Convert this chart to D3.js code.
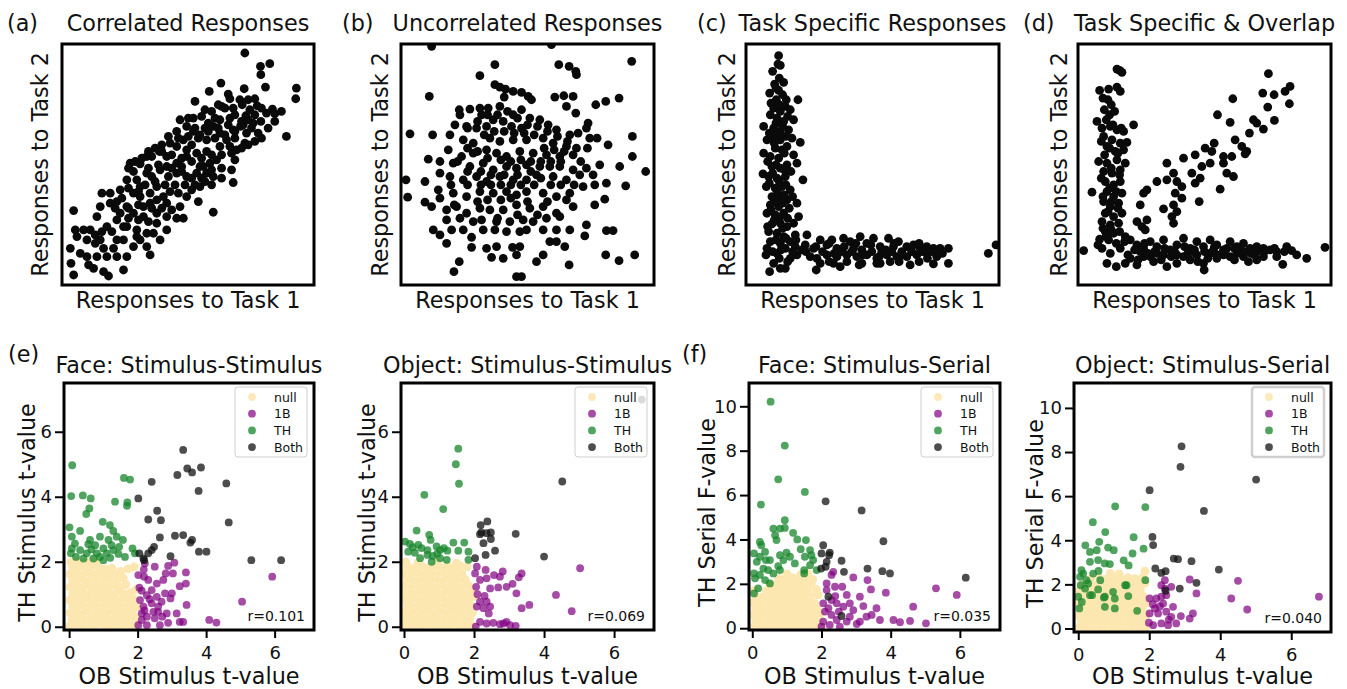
<!DOCTYPE html>
<html>
<head>
<meta charset="utf-8">
<script src="https://cdn.jsdelivr.net/npm/d3@7"></script>
<style>
  body { margin: 0; background: #fff; }
  text { font-family: "DejaVu Sans", sans-serif; fill: #111; }
</style>
</head>
<body>
<svg id="fig" width="1347" height="689"></svg>
<script>
// ---- top row: schematic responses (arbitrary units, x 0..760, y 0..722) ----
const correlatedResp = [[550,695],[597,655],[625,663],[598,630],[478,605],[548,588],[612,593],[705,590],[703,558],[443,580],[500,572],[505,558],[535,555],[560,555],[580,558],[633,527],[615,515],[640,513],[542,540],[587,537],[400,550],[430,525],[480,535],[515,530],[565,525],[553,507],[575,485],[598,490],[675,445],[355,495],[395,500],[420,505],[460,500],[505,500],[537,475],[555,455],[590,455],[520,440],[550,425],[525,405],[520,375],[455,475],[475,455],[435,435],[415,450],[375,475],[345,460],[325,425],[365,435],[390,420],[435,400],[475,415],[505,415],[465,375],[445,365],[515,307],[455,218],[205,365],[235,363],[270,385],[293,400],[315,385],[345,365],[375,385],[405,395],[425,355],[455,325],[415,295],[390,285],[410,250],[375,265],[355,235],[315,245],[285,295],[255,335],[225,315],[195,315],[215,275],[175,285],[145,275],[120,275],[115,235],[145,245],[165,250],[175,215],[195,235],[235,265],[265,245],[285,215],[315,205],[345,200],[365,200],[285,185],[255,155],[225,165],[195,175],[165,195],[135,175],[105,205],[85,165],[65,165],[40,165],[35,223],[45,145],[75,135],[100,125],[115,135],[125,110],[135,85],[165,85],[155,110],[185,135],[215,115],[235,135],[255,115],[265,90],[295,135],[195,85],[105,85],[75,85],[55,95],[25,110],[27,65],[35,30],[80,60],[95,50],[125,40],[140,27],[185,45],[225,145],[315,165],[275,155],[415,355],[320,325],[345,335],[295,345],[270,325],[375,325],[405,335],[435,335],[325,280],[305,265],[350,275],[245,205],[215,215],[185,175],[165,135],[265,275],[235,295],[255,385],[215,340],[395,460],[475,495],[515,465],[495,435],[440,485],[375,405],[345,415],[315,355],[360,355],[285,255],[245,235],
[300,400],[330,390],[360,380],[390,370],[420,380],[450,390],[480,390],[510,395],[540,410],[560,420],[580,430],[600,440],[620,470],[640,490],[660,520],[600,530],[580,510],[560,495],[540,490],[500,480],[470,470],[440,460],[410,440],[380,445],[350,440],[320,445],[300,420],[280,410],[260,400],[240,380],[220,370],[200,350],[260,350],[290,360],[330,350],[360,340],[390,320],[420,320],[450,345],[480,350],[510,345],[480,320],[450,300],[430,310],[400,300],[370,300],[340,300],[310,300],[280,310],[250,300],[230,280],[200,290],[180,260],[160,230],[200,230],[230,240],[270,230],[300,230],[330,225],[260,190],[230,195],[200,200],[150,160],[120,160],[100,150],[490,450],[520,460],[460,440],[430,470],[400,470],[380,500],[450,520],[470,540],[490,530],[520,510],[545,480],[570,470]];

const uncorrelatedResp = [[92,715],[452,720],[282,660],[237,627],[474,660],[505,655],[525,640],[527,630],[693,670],[85,565],[282,600],[297,593],[314,587],[310,563],[337,580],[362,577],[382,565],[392,555],[462,563],[489,567],[517,565],[497,535],[525,515],[585,540],[615,550],[655,560],[27,453],[95,450],[175,525],[207,527],[237,530],[242,510],[262,530],[297,535],[337,510],[362,525],[177,510],[162,480],[197,475],[227,470],[257,475],[277,495],[307,490],[332,475],[362,470],[387,500],[417,495],[442,480],[467,465],[507,450],[532,455],[557,470],[562,485],[567,440],[589,440],[622,420],[695,445],[147,450],[187,435],[217,425],[267,440],[297,430],[337,435],[377,435],[427,440],[457,425],[497,415],[527,410],[142,405],[182,385],[217,395],[257,405],[287,395],[317,385],[357,400],[397,395],[437,390],[477,385],[517,390],[82,377],[117,370],[157,365],[207,355],[247,365],[277,345],[317,355],[347,350],[377,360],[417,355],[447,355],[477,355],[517,345],[557,350],[597,360],[657,355],[695,385],[735,340],[15,315],[72,310],[117,335],[147,325],[187,315],[227,325],[257,310],[297,325],[337,315],[377,315],[407,330],[457,325],[497,315],[537,330],[577,330],[617,305],[675,297],[20,263],[72,248],[112,285],[117,260],[157,275],[197,265],[237,280],[277,275],[317,280],[347,270],[377,280],[427,275],[467,265],[507,275],[547,295],[582,300],[612,257],[582,240],[92,235],[137,225],[167,235],[197,215],[237,230],[267,225],[307,225],[347,240],[387,230],[427,235],[467,215],[497,255],[517,235],[137,195],[177,200],[217,190],[242,195],[287,190],[327,190],[367,195],[397,190],[437,200],[477,205],[557,180],[97,165],[117,150],[137,125],[152,165],[187,165],[212,143],[247,165],[282,165],[317,160],[357,160],[377,165],[427,165],[467,165],[507,165],[552,147],[617,163],[637,163],[257,110],[212,113],[287,115],[335,113],[357,115],[347,90],[307,80],[272,83],[447,130],[467,130],[492,115],[427,90],[407,70],[505,60],[615,90],[655,73],[702,90],[175,70],[159,40],[347,25],[362,25],
[200,470],[230,490],[260,510],[290,510],[320,520],[350,500],[380,480],[410,475],[440,460],[470,445],[500,430],[250,450],[280,460],[310,460],[340,455],[370,455],[400,450],[430,410],[460,405],[490,400],[200,410],[230,400],[260,380],[300,375],[330,370],[360,375],[390,370],[420,370],[450,370],[480,370],[170,370],[200,340],[240,340],[270,330],[310,330],[350,330],[390,340],[420,320],[450,300],[480,300],[200,300],[240,300],[270,300],[300,300],[330,300],[360,300],[400,300],[330,260],[300,255],[260,255],[230,250],[290,200],[350,210],[410,210],[380,250],[440,250],[150,300],[160,240],[520,300],[540,370],[560,410]];

const taskSpecificResp = [[98,687],[96,662],[103,658],[86,602],[113,607],[71,575],[98,583],[91,555],[121,555],[156,555],[118,535],[83,530],[103,520],[133,525],[73,510],[53,475],[93,500],[113,490],[143,495],[83,470],[103,460],[128,465],[63,435],[81,445],[103,435],[138,440],[163,427],[88,410],[108,405],[123,415],[53,395],[73,385],[98,380],[143,390],[153,365],[78,355],[103,350],[123,360],[51,333],[68,325],[93,320],[118,325],[171,315],[61,295],[88,290],[108,295],[133,285],[78,265],[103,260],[123,255],[73,240],[98,235],[153,245],[113,215],[88,210],[63,215],[158,205],[103,185],[78,183],[123,175],[143,185],[68,160],[93,155],[113,145],[148,150],[183,150],[73,130],[103,125],[133,130],[63,110],[93,95],[118,110],[148,115],[178,120],[203,110],[223,135],[243,120],[258,135],[273,110],[293,140],[313,130],[323,110],[343,145],[363,125],[383,140],[403,115],[428,140],[443,115],[458,130],[483,115],[503,120],[523,110],[543,115],[563,110],[583,110],[608,110],[193,85],[213,80],[243,90],[273,85],[303,90],[333,85],[363,90],[393,80],[423,90],[453,85],[483,85],[513,90],[543,95],[573,85],[223,65],[263,65],[303,70],[348,65],[393,65],[433,70],[493,60],[563,63],[608,65],[211,45],[71,40],[103,50],[118,50],[83,65],[728,95],[751,120],[168,105],[153,90],[133,80],[288,100],[318,100],[348,105],[378,100],[408,100],[438,100],[468,100],[498,100],[528,100],[558,100],[403,65],[283,55],
[80,640],[100,620],[90,590],[110,570],[75,545],[100,540],[125,505],[90,485],[110,475],[70,455],[95,450],[120,445],[85,425],[115,395],[65,370],[90,360],[115,345],[135,340],[80,335],[100,310],[120,300],[70,305],[95,275],[115,270],[140,265],[85,250],[110,245],[130,230],[75,225],[100,200],[125,200],[85,195],[110,170],[65,175],[90,135],[120,140],[80,100],[105,105],[60,90],[140,100],[150,135],[100,80],[125,70],[180,100],[210,115],[230,100],[250,125],[265,95],[295,115],[330,125],[350,90],[375,120],[400,85],[420,105],[445,125],[470,90],[495,110],[520,125],[545,80],[570,100],[590,95],[250,70],[340,60],[460,70],[520,70]];

const overlapResp = [[117,647],[125,643],[132,637],[65,583],[92,587],[117,593],[127,580],[90,555],[79,525],[95,510],[57,490],[167,480],[72,470],[97,475],[117,465],[137,460],[77,445],[102,435],[127,425],[147,427],[87,415],[112,400],[137,405],[62,370],[87,365],[117,375],[142,365],[77,340],[102,335],[127,345],[42,278],[82,310],[107,300],[127,310],[87,280],[107,265],[132,275],[77,250],[97,235],[122,245],[82,215],[107,205],[132,215],[72,190],[97,180],[122,185],[82,160],[107,155],[65,137],[92,135],[17,103],
[72,110],[97,95],[87,65],[115,55],[142,65],[127,110],[142,145],[157,135],[177,120],[197,110],[217,130],[237,115],[257,135],[277,105],[297,120],[317,140],[337,110],[357,130],[377,115],[397,135],[417,120],[437,105],[457,130],[477,115],[497,125],[517,110],[537,115],[557,110],[577,105],[597,100],[627,115],[642,103],[657,90],[687,80],[742,113],[615,62],[537,75],[497,85],[457,85],[417,80],[377,65],[379,45],[337,75],[297,65],[267,55],[227,70],[197,85],[177,60],[157,80],[237,95],[317,85],[397,95],[477,95],[512,70],[557,85],[597,85],[257,90],[357,90],[437,90],[217,85],[187,100],[297,90],[347,100],[407,105],[447,110],[487,105],[537,100],
[572,633],[637,595],[622,580],[555,575],[589,570],[635,543],[465,558],[570,533],[419,510],[527,495],[590,493],[457,487],[537,485],[557,467],[515,455],[409,425],[382,410],[402,400],[472,435],[492,415],[507,400],[502,393],[437,385],[462,385],[437,365],[447,335],[467,325],[397,365],[372,355],[352,390],[317,380],[342,335],[367,320],[352,305],[427,287],[364,250],[312,295],[297,310],[287,335],[267,365],[267,315],[292,275],[312,260],[237,310],[207,285],[197,275],[287,240],[257,228],[297,220],[187,240],[207,195],[282,205],[177,190],[192,175],[202,165],[287,185],
[75,560],[100,540],[110,520],[85,495],[105,480],[130,470],[70,430],[95,410],[120,395],[80,390],[100,350],[125,330],[70,320],[95,290],[115,280],[75,265],[100,250],[120,230],[90,220],[75,170],[100,165],[125,160],[85,145],[115,125],[140,130],[60,120],[170,105],[200,125],[230,100],[260,110],[290,100],[320,115],[350,105],[380,100],[410,115],[440,95],[470,110],[500,100],[530,90],[560,100],[590,110],[620,100],[150,90],[180,75],[210,95],[250,75],[280,85],[330,95],[360,70],[390,80],[420,90],[470,75],[520,95]];

// ---- bottom row: OB vs TH statistics per voxel group ----
const groupNames = ["null", "1B", "TH", "Both"];
const tickX = [0, 2, 4, 6];
const tickYStim = [0, 2, 4, 6];
const tickYSerial = [0, 2, 4, 6, 8, 10];
const corrLabels = ["r=0.101", "r=0.069", "r=0.035", "r=0.040"];

const faceStimNull = [[0.02,0.03],[0.19,0.08],[0.37,0.02],[0.55,0.07],[0.73,0.03],[0.91,0.09],[1.09,0.02],[1.27,0.06],[1.46,0.03],[1.63,0.08],[1.8,0.04],[1.95,0.1],[0.08,0.23],[0.27,0.27],[0.46,0.2],[0.64,0.28],[0.82,0.22],[1.01,0.28],[1.18,0.21],[1.37,0.27],[1.55,0.22],[1.73,0.28],[1.9,0.31],[0.03,0.43],[0.2,0.46],[0.38,0.4],[0.57,0.47],[0.75,0.42],[0.93,0.46],[1.11,0.41],[1.3,0.47],[1.48,0.42],[1.66,0.46],[1.85,0.5],[1.97,0.62],[0.11,0.62],[0.29,0.66],[0.47,0.61],[0.66,0.68],[0.84,0.62],[1.02,0.66],[1.2,0.6],[1.39,0.67],[1.57,0.62],[1.76,0.7],[0.02,0.82],[0.2,0.86],[0.39,0.81],[0.57,0.87],[0.76,0.82],[0.94,0.87],[1.12,0.8],[1.31,0.86],[1.5,0.82],[1.68,0.88],[1.88,0.86],[0.1,1.02],[0.28,1.06],[0.47,1.0],[0.66,1.07],[0.85,1.01],[1.03,1.06],[1.22,1.0],[1.4,1.07],[1.59,1.02],[1.79,1.05],[1.95,1.14],[0.03,1.22],[0.2,1.26],[0.38,1.2],[0.57,1.27],[0.76,1.22],[0.94,1.26],[1.13,1.2],[1.32,1.27],[1.5,1.22],[1.66,1.3],[0.1,1.42],[0.29,1.46],[0.48,1.4],[0.66,1.47],[0.85,1.41],[1.04,1.46],[1.22,1.4],[1.42,1.46],[1.58,1.5],[0.02,1.62],[0.2,1.66],[0.4,1.6],[0.58,1.67],[0.77,1.62],[0.95,1.66],[1.14,1.6],[1.32,1.65],[1.5,1.7],[1.9,1.84],[0.1,1.82],[0.3,1.86],[0.5,1.8],[0.68,1.88],[0.87,1.83],[1.05,1.78],[1.25,1.8],[1.72,1.78],[0.05,1.98],[0.25,2.0],[0.45,1.96],[0.8,1.98],[0.63,2.02]];
const faceStim1B = [[5.93,1.54],[5.05,0.77],[4.09,0.21],[4.30,0.13],[3.43,0.67],[3.41,1.67],[3.07,1.97],[2.89,1.87],[3.03,1.64],[2.82,1.64],[2.75,1.44],[2.50,1.85],[2.21,1.95],[2.18,1.76],[2.19,1.54],[3.23,1.25],[3.41,1.33],[2.80,1.03],[3.0,1.03],[2.96,0.87],[3.14,0.41],[3.23,0.15],[3.33,0.15],[2.89,0.12],[2.65,0.05],[2.12,1.11],[2.27,0.97],[2.41,1.13],[2.56,0.92],[2.07,0.82],[2.17,0.62],[2.41,0.72],[2.60,0.62],[2.70,0.77],[2.46,0.46],[2.27,0.31],[2.12,0.41],[2.50,0.26],[2.27,0.05],[2.02,0.05],[2.85,0.41],[2.60,0.46],[2.12,0.21],[2.72,0.31],[2.31,1.44],[2.56,1.33],[2.02,1.59],[2.05,1.2],[2.35,0.85],[2.2,0.5]];
const faceStimTH = [[0.09,4.97],[0.06,4.02],[0.40,4.04],[0.63,3.95],[1.60,4.58],[1.78,4.53],[1.34,3.85],[1.70,3.83],[1.69,3.72],[0.50,3.47],[0.59,3.64],[0.01,3.06],[0.98,3.23],[1.19,3.13],[1.29,2.95],[0.32,2.95],[0.61,2.67],[0.08,2.77],[0.90,2.77],[1.15,2.67],[1.39,2.77],[1.57,2.67],[0.56,2.54],[0.17,2.56],[0.32,2.36],[0.05,2.26],[0.2,2.15],[0.51,2.26],[0.81,2.26],[1.0,2.41],[1.10,2.26],[1.29,2.36],[1.44,2.24],[1.63,2.15],[1.85,2.41],[1.92,2.26],[0.76,2.51],[0.90,2.15],[1.24,2.51],[0.42,2.10],[0.71,2.10],[0.08,2.41],[1.46,2.46],[1.0,2.05],[1.2,2.12],[0.65,2.38]];
const faceStimBoth = [[3.33,5.44],[3.45,4.87],[3.59,4.75],[3.85,4.90],[3.16,4.67],[2.41,4.46],[4.59,4.41],[3.78,4.18],[2.02,3.95],[2.57,3.57],[2.31,3.30],[2.68,3.28],[4.66,3.21],[2.65,2.75],[3.09,2.80],[3.33,2.82],[3.54,2.59],[3.59,2.67],[3.79,2.31],[4.01,2.31],[2.96,2.17],[5.32,2.05],[6.19,2.05],[2.05,2.26],[2.17,2.10],[2.31,2.26],[2.41,2.36],[2.48,2.46],[2.19,2.05]];

const objStimNull = [[0.0,0.05],[0.17,0.02],[0.35,0.07],[0.53,0.03],[0.7,0.08],[0.88,0.02],[1.06,0.07],[1.24,0.03],[1.42,0.08],[1.6,0.02],[1.78,0.06],[1.94,0.04],[0.07,0.25],[0.25,0.21],[0.43,0.27],[0.61,0.22],[0.8,0.27],[0.97,0.2],[1.15,0.26],[1.33,0.22],[1.52,0.28],[1.7,0.23],[1.88,0.27],[0.01,0.45],[0.18,0.41],[0.36,0.47],[0.54,0.42],[0.72,0.46],[0.9,0.4],[1.08,0.47],[1.26,0.42],[1.45,0.46],[1.63,0.41],[1.82,0.47],[1.96,0.44],[0.09,0.65],[0.27,0.61],[0.45,0.67],[0.63,0.62],[0.81,0.66],[0.99,0.6],[1.17,0.67],[1.36,0.62],[1.54,0.66],[1.73,0.61],[1.9,0.66],[0.0,0.85],[0.18,0.81],[0.36,0.87],[0.55,0.82],[0.73,0.86],[0.91,0.8],[1.09,0.87],[1.28,0.82],[1.46,0.86],[1.64,0.81],[1.83,0.86],[1.97,0.92],[0.08,1.05],[0.27,1.01],[0.45,1.07],[0.64,1.02],[0.82,1.06],[1.0,1.0],[1.18,1.07],[1.37,1.02],[1.55,1.06],[1.74,1.01],[1.92,1.08],[0.01,1.25],[0.19,1.21],[0.37,1.27],[0.56,1.22],[0.74,1.26],[0.92,1.2],[1.1,1.27],[1.29,1.22],[1.47,1.26],[1.66,1.21],[1.84,1.27],[0.09,1.45],[0.28,1.41],[0.46,1.47],[0.65,1.42],[0.83,1.46],[1.01,1.4],[1.19,1.47],[1.38,1.42],[1.56,1.46],[1.75,1.45],[0.0,1.65],[0.19,1.61],[0.38,1.67],[0.57,1.62],[0.75,1.66],[0.93,1.6],[1.11,1.67],[1.3,1.62],[1.48,1.66],[1.66,1.63],[0.1,1.84],[0.3,1.81],[0.5,1.87],[0.69,1.82],[0.88,1.86],[1.06,1.8],[1.25,1.87],[1.43,1.83],[1.6,1.88],[1.8,1.84],[0.05,1.99],[0.4,1.97],[0.95,1.98],[1.5,1.96]];
const objStim1B = [[5.03,1.80],[4.34,0.98],[4.79,0.48],[3.58,0.67],[3.36,0.57],[3.36,1.64],[3.28,1.52],[3.10,1.32],[3.21,1.03],[2.82,1.70],[2.74,1.54],[2.93,1.23],[2.69,1.21],[2.46,1.18],[2.33,1.75],[2.08,1.85],[2.03,1.64],[2.06,1.23],[2.17,1.44],[2.36,1.49],[2.17,0.77],[2.36,0.77],[2.46,0.62],[2.27,0.57],[2.08,0.62],[2.42,0.41],[2.17,0.15],[2.36,0.10],[2.55,0.12],[2.74,0.08],[2.93,0.15],[3.03,0.05],[3.19,0.03],[2.05,0.0],[2.84,0.10],[2.57,1.59],[2.1,1.0],[2.3,0.95]];
const objStimTH = [[1.55,5.48],[1.48,5.0],[1.57,4.40],[0.58,4.06],[1.12,3.62],[0.36,2.96],[0.72,2.83],[0.76,2.67],[0.17,2.55],[0.41,2.52],[0.12,2.31],[0.31,2.28],[0.50,2.42],[0.67,2.36],[0.46,2.11],[0.82,2.18],[0.93,2.47],[1.03,2.36],[1.14,2.42],[1.24,2.34],[1.41,2.59],[1.55,2.34],[1.72,2.59],[1.84,2.31],[1.84,2.06],[1.22,2.06],[1.03,2.11],[0.79,2.0],[0.67,2.21],[0.03,2.62],[0.25,2.45],[0.95,2.25]];
const objStimBoth = [[6.79,6.99],[4.52,4.47],[4.0,2.16],[3.19,2.86],[2.6,2.34],[2.33,2.21],[2.03,2.11],[2.27,2.57],[2.48,2.70],[2.48,2.90],[2.38,3.24],[2.19,3.13],[2.21,2.90],[2.17,2.85],[2.36,2.88]];

const faceSerNull = [[0.02,0.04],[0.2,0.08],[0.4,0.02],[0.6,0.07],[0.8,0.03],[1.0,0.09],[1.2,0.02],[1.4,0.06],[1.6,0.03],[1.8,0.08],[1.95,0.05],[0.1,0.32],[0.3,0.28],[0.5,0.35],[0.7,0.3],[0.9,0.34],[1.1,0.28],[1.3,0.35],[1.5,0.3],[1.7,0.34],[1.9,0.3],[0.02,0.6],[0.2,0.56],[0.4,0.63],[0.6,0.58],[0.8,0.62],[1.0,0.56],[1.2,0.63],[1.4,0.58],[1.6,0.62],[1.8,0.57],[1.96,0.64],[0.1,0.88],[0.3,0.84],[0.5,0.91],[0.7,0.86],[0.9,0.9],[1.1,0.84],[1.3,0.91],[1.5,0.86],[1.7,0.9],[1.88,0.85],[0.02,1.15],[0.2,1.12],[0.4,1.19],[0.6,1.14],[0.8,1.18],[1.0,1.12],[1.2,1.19],[1.4,1.14],[1.6,1.18],[1.8,1.13],[0.12,1.42],[0.3,1.4],[0.5,1.46],[0.7,1.41],[0.9,1.45],[1.1,1.4],[1.3,1.46],[1.5,1.41],[1.68,1.45],[1.9,1.5],[0.05,1.7],[0.4,1.68],[0.6,1.74],[0.8,1.69],[1.0,1.73],[1.2,1.68],[1.4,1.74],[1.6,1.69],[1.85,1.75],[0.5,1.98],[0.7,1.95],[0.9,2.01],[1.1,1.96],[1.3,2.0],[1.5,1.95],[1.7,2.0],[0.75,2.25],[0.95,2.22],[1.15,2.28],[1.35,2.23],[1.55,2.27],[1.75,2.2],[1.0,2.45],[1.4,2.42],[1.6,2.48]];
const faceSer1B = [[5.31,1.80],[5.91,1.50],[4.65,0.97],[4.08,0.37],[4.27,0.27],[4.56,0.33],[5.02,0.22],[3.86,1.60],[3.43,1.75],[3.33,2.17],[2.92,2.29],[2.34,2.54],[2.29,2.40],[2.15,2.02],[2.39,1.87],[2.60,1.87],[2.15,1.72],[2.73,1.50],[3.11,1.42],[3.21,1.0],[3.59,0.90],[3.45,0.60],[3.30,0.52],[3.69,0.37],[2.05,1.12],[2.29,1.27],[2.44,1.12],[2.63,0.97],[2.82,1.12],[2.92,0.82],[2.10,0.75],[2.29,0.60],[2.44,0.37],[2.73,0.30],[2.82,0.52],[2.05,0.30],[2.24,0.15],[2.53,0.07],[3.02,0.19],[3.11,0.30],[2.0,0.07],[2.2,0.9],[2.5,0.75],[2.4,1.45]];
const faceSerTH = [[0.53,10.21],[0.94,8.23],[0.75,6.71],[1.52,6.14],[0.25,5.57],[0.94,4.87],[0.61,4.49],[0.80,4.49],[0.94,4.52],[0.66,4.19],[0.70,3.97],[1.18,4.30],[1.30,4.0],[1.55,3.97],[1.40,3.56],[0.22,3.89],[0.26,3.74],[0.05,3.37],[0.22,3.22],[0.37,3.44],[0.51,3.07],[0.80,3.29],[0.99,3.40],[1.09,3.22],[0.90,3.07],[0.75,2.80],[1.23,2.92],[1.67,3.52],[1.71,3.29],[1.76,3.07],[1.52,3.22],[1.67,2.84],[1.86,2.62],[1.50,2.62],[1.50,2.47],[0.05,2.47],[0.08,2.25],[0.22,2.40],[0.37,2.17],[0.51,2.02],[0.17,1.80],[0.05,1.57],[0.32,2.69],[0.46,2.62],[0.61,2.47],[0.80,2.62],[0.13,2.99],[0.39,3.07]];
const faceSerBoth = [[2.12,5.72],[3.16,5.31],[3.79,3.92],[2.05,3.74],[2.0,3.37],[2.24,3.41],[2.22,3.29],[2.15,2.99],[2.58,3.04],[2.65,2.54],[1.99,2.69],[2.12,2.77],[3.33,2.69],[3.76,2.57],[3.98,2.47],[6.17,2.28],[2.20,1.42],[2.58,0.55]];

const objSerNull = [[0.01,0.05],[0.19,0.02],[0.38,0.07],[0.57,0.03],[0.76,0.08],[0.95,0.02],[1.14,0.06],[1.33,0.03],[1.52,0.08],[1.71,0.03],[1.9,0.06],[0.09,0.3],[0.28,0.34],[0.47,0.29],[0.66,0.35],[0.85,0.3],[1.04,0.34],[1.23,0.28],[1.42,0.35],[1.61,0.3],[1.8,0.34],[0.0,0.58],[0.19,0.62],[0.38,0.56],[0.57,0.63],[0.76,0.57],[0.95,0.62],[1.14,0.56],[1.33,0.63],[1.52,0.58],[1.71,0.62],[1.9,0.6],[0.09,0.86],[0.28,0.9],[0.47,0.84],[0.66,0.91],[0.85,0.85],[1.04,0.9],[1.23,0.84],[1.42,0.91],[1.61,0.86],[1.8,0.9],[0.0,1.14],[0.19,1.18],[0.38,1.12],[0.57,1.19],[0.76,1.13],[0.95,1.18],[1.14,1.12],[1.33,1.19],[1.52,1.14],[1.71,1.18],[1.9,1.15],[0.1,1.42],[0.28,1.46],[0.47,1.4],[0.66,1.47],[0.85,1.41],[1.04,1.46],[1.23,1.4],[1.42,1.47],[1.61,1.42],[1.82,1.46],[0.02,1.7],[0.19,1.74],[0.38,1.68],[0.57,1.75],[0.76,1.69],[0.95,1.74],[1.14,1.68],[1.33,1.75],[1.52,1.7],[1.75,1.74],[0.1,1.98],[0.3,2.02],[0.5,1.96],[0.7,2.03],[0.9,1.97],[1.1,2.02],[1.3,1.96],[1.5,2.03],[1.7,1.98],[1.88,2.05],[0.35,2.25],[0.6,2.3],[0.8,2.24],[1.0,2.31],[1.2,2.25],[1.4,2.3],[1.6,2.26],[1.82,2.32],[0.9,2.5],[1.15,2.47],[1.88,2.6]];
const objSer1B = [[6.78,1.44],[4.50,2.16],[4.31,1.36],[4.76,0.86],[3.14,2.22],[3.33,1.59],[3.23,0.68],[3.14,0.45],[2.89,0.56],[2.67,0.98],[2.44,1.81],[2.44,2.19],[2.34,1.96],[2.62,1.89],[2.01,1.36],[2.20,1.36],[2.34,1.44],[2.39,1.13],[2.16,0.91],[2.01,0.68],[2.25,0.68],[2.48,0.76],[2.62,0.53],[2.34,0.23],[2.11,0.15],[2.53,0.15],[2.76,0.23],[1.99,0.26],[2.48,1.51],[2.3,1.0],[2.1,1.1],[2.55,0.4]];
const objSerTH = [[1.04,5.53],[1.89,5.5],[0.41,4.82],[0.76,4.37],[0.2,3.77],[0.33,3.47],[0.52,3.55],[0.59,3.93],[0.84,3.67],[1.0,3.55],[1.56,4.14],[1.84,3.62],[1.53,3.40],[1.28,3.09],[1.42,2.86],[0.56,3.10],[0.75,2.95],[0.89,2.92],[0.33,3.02],[0.14,2.49],[0.05,2.34],[0.23,2.19],[0.07,1.96],[0.19,1.81],[0.0,1.44],[0.03,0.91],[0.33,1.51],[0.56,1.77],[0.75,1.44],[0.98,1.66],[1.03,1.36],[0.75,0.98],[1.03,0.91],[1.36,1.96],[1.41,1.47],[1.66,0.80],[1.89,2.19],[0.28,2.04],[0.09,2.64],[0.42,2.49],[0.62,2.19],[0.57,2.61],[1.32,1.96],[0.39,1.51],[0.10,1.20],[0.72,1.40]];
const objSerBoth = [[2.91,8.26],[2.88,7.33],[5.01,6.75],[2.01,6.27],[3.54,5.33],[2.09,4.15],[2.11,3.78],[2.69,3.17],[2.81,3.14],[3.19,3.05],[3.96,2.67],[2.17,2.72],[2.34,2.52],[2.46,2.60],[3.33,2.07],[2.86,1.81],[2.46,1.71]];

const groupStyle = {
  "null": { fill: "#fde7b1", opacity: 1, r: 4.4 },
  "1B":   { fill: "#800080", opacity: 0.7, r: 3.9 },
  "TH":   { fill: "#16862a", opacity: 0.75, r: 3.9 },
  "Both": { fill: "#111111", opacity: 0.75, r: 3.9 }
};

const svg = d3.select("#fig");
const FONT = "22.3px";

const topPanels = [
  { tag: "(a)", tagX: 7,    title: "Correlated Responses",   box: [62, 44, 314, 285],   pts: correlatedResp,   xMax: 758, ylabDx: -14 },
  { tag: "(b)", tagX: 342,  title: "Uncorrelated Responses", box: [401, 44, 654, 285],  pts: uncorrelatedResp, xMax: 760, ylabDx: -13 },
  { tag: "(c)", tagX: 697,  title: "Task Specific Responses", box: [746, 44, 999, 285], pts: taskSpecificResp, xMax: 760, ylabDx: -11 },
  { tag: "(d)", tagX: 1023, title: "Task Specific & Overlap", box: [1078, 44, 1331, 285], pts: overlapResp,    xMax: 760, ylabDx: -11 }
];

const bottomPanels = [
  { tag: "(e)", tagX: 8, title: "Face: Stimulus-Stimulus", box: [64, 383, 314, 630], xDom: [-0.15, 7.15], yDom: [-0.1, 7.5],
    yTicks: tickYStim, ylab: "TH Stimulus t-value", ylabDx: -29, r: corrLabels[0],
    sets: [faceStimNull, faceStim1B, faceStimTH, faceStimBoth] },
  { tag: null, title: "Object: Stimulus-Stimulus", box: [401, 383, 654, 630], xDom: [-0.086, 7.14], yDom: [-0.1, 7.5],
    yTicks: tickYStim, ylab: "TH Stimulus t-value", ylabDx: -26, r: corrLabels[1],
    sets: [objStimNull, objStim1B, objStimTH, objStimBoth] },
  { tag: "(f)", tagX: 682, title: "Face: Stimulus-Serial", box: [749, 383, 1000, 630], xDom: [-0.095, 7.16], yDom: [-0.08, 11.05],
    yTicks: tickYSerial, ylab: "TH Serial F-value", ylabDx: -34, r: corrLabels[2],
    sets: [faceSerNull, faceSer1B, faceSerTH, faceSerBoth] },
  { tag: null, title: "Object: Stimulus-Serial", box: [1074, 383, 1331, 632], xDom: [-0.12, 7.12], yDom: [-0.16, 11.13],
    yTicks: tickYSerial, ylab: "TH Serial F-value", ylabDx: -31, r: corrLabels[3], legendStroke: 2.5,
    sets: [objSerNull, objSer1B, objSerTH, objSerBoth] }
];

let clipId = 0;
function addClip(box) {
  const id = "clip" + (clipId++);
  svg.append("clipPath").attr("id", id)
    .append("rect").attr("x", box[0]).attr("y", box[1])
    .attr("width", box[2] - box[0]).attr("height", box[3] - box[1]);
  return id;
}

function frame(box) {
  svg.append("rect")
    .attr("x", box[0]).attr("y", box[1])
    .attr("width", box[2] - box[0]).attr("height", box[3] - box[1])
    .attr("fill", "none").attr("stroke", "#000").attr("stroke-width", 3);
}

function headings(p, titleY, tagY) {
  const cx = (p.box[0] + p.box[2]) / 2;
  svg.append("text").attr("x", cx).attr("y", titleY)
    .attr("text-anchor", "middle").style("font-size", FONT).text(p.title);
  if (p.tag)
    svg.append("text").attr("x", p.tagX).attr("y", tagY)
      .style("font-size", FONT).text(p.tag);
}

// top row
topPanels.forEach(p => {
  const x = d3.scaleLinear().domain([0, p.xMax]).range([p.box[0], p.box[2]]);
  const y = d3.scaleLinear().domain([0, 722]).range([p.box[3], p.box[1]]);
  const cid = addClip(p.box);
  svg.append("g").attr("clip-path", `url(#${cid})`)
    .selectAll("circle").data(p.pts).join("circle")
    .attr("cx", d => x(d[0])).attr("cy", d => y(d[1]))
    .attr("r", 4.4).attr("fill", "#0a0a0a");
  frame(p.box);
  headings(p, 31, 31);
  const cx = (p.box[0] + p.box[2]) / 2, cy = (p.box[1] + p.box[3]) / 2;
  svg.append("text").attr("x", cx).attr("y", 308)
    .attr("text-anchor", "middle").style("font-size", FONT).text("Responses to Task 1");
  svg.append("text")
    .attr("transform", `translate(${p.box[0] + p.ylabDx},${cy}) rotate(-90)`)
    .attr("text-anchor", "middle").style("font-size", FONT).text("Responses to Task 2");
});

// bottom row
bottomPanels.forEach(p => {
  const x = d3.scaleLinear().domain(p.xDom).range([p.box[0], p.box[2]]);
  const y = d3.scaleLinear().domain(p.yDom).range([p.box[3], p.box[1]]);
  const cid = addClip(p.box);
  const plot = svg.append("g").attr("clip-path", `url(#${cid})`);

  p.sets.forEach((pts, i) => {
    const st = groupStyle[groupNames[i]];
    plot.append("g").selectAll("circle").data(pts).join("circle")
      .attr("cx", d => x(d[0])).attr("cy", d => y(d[1]))
      .attr("r", st.r).attr("fill", st.fill).attr("fill-opacity", st.opacity);
  });

  const xAxis = svg.append("g").attr("transform", `translate(0,${p.box[3]})`)
    .call(d3.axisBottom(x).tickValues(tickX).tickSize(8).tickPadding(8).tickFormat(d3.format("d")));
  const yAxis = svg.append("g").attr("transform", `translate(${p.box[0]},0)`)
    .call(d3.axisLeft(y).tickValues(p.yTicks).tickSize(9).tickPadding(3).tickFormat(d3.format("d")));
  [xAxis, yAxis].forEach(a => {
    a.select(".domain").remove();
    a.selectAll(".tick line").attr("stroke", "#000").attr("stroke-width", 2);
    a.selectAll(".tick text").attr("fill", "#111").style("font-size", "18px")
      .style("font-family", '"DejaVu Sans", sans-serif');
  });

  // legend
  const lw = 72, lh = 70;
  const lx = p.box[2] - 7 - lw, ly = p.box[1] + 4;
  const leg = svg.append("g");
  leg.append("rect").attr("x", lx).attr("y", ly).attr("width", lw).attr("height", lh)
    .attr("rx", 3).attr("fill", "#fff").attr("fill-opacity", 0.8)
    .attr("stroke", "#cfcfcf").attr("stroke-width", p.legendStroke || 1);
  groupNames.forEach((g, i) => {
    const st = groupStyle[g];
    const cy = ly + 10 + i * 16.7;
    leg.append("circle").attr("cx", lx + 17).attr("cy", cy).attr("r", 3.9)
      .attr("fill", st.fill).attr("fill-opacity", g === "null" ? 0.9 : st.opacity);
    leg.append("text").attr("x", lx + 39).attr("y", cy + 4.5)
      .style("font-size", "12.5px").text(g);
  });

  svg.append("text").attr("x", p.box[2] - 9).attr("y", p.box[3] - 9)
    .attr("text-anchor", "end").style("font-size", "14px").text(p.r);

  frame(p.box);
  headings(p, 373, 362);
  const cx = (p.box[0] + p.box[2]) / 2, cy = (p.box[1] + p.box[3]) / 2;
  svg.append("text").attr("x", cx).attr("y", 684)
    .attr("text-anchor", "middle").style("font-size", FONT).text("OB Stimulus t-value");
  svg.append("text")
    .attr("transform", `translate(${p.box[0] + p.ylabDx},${cy + 6}) rotate(-90)`)
    .attr("text-anchor", "middle").style("font-size", FONT).text(p.ylab);
});
</script>
</body>
</html>
